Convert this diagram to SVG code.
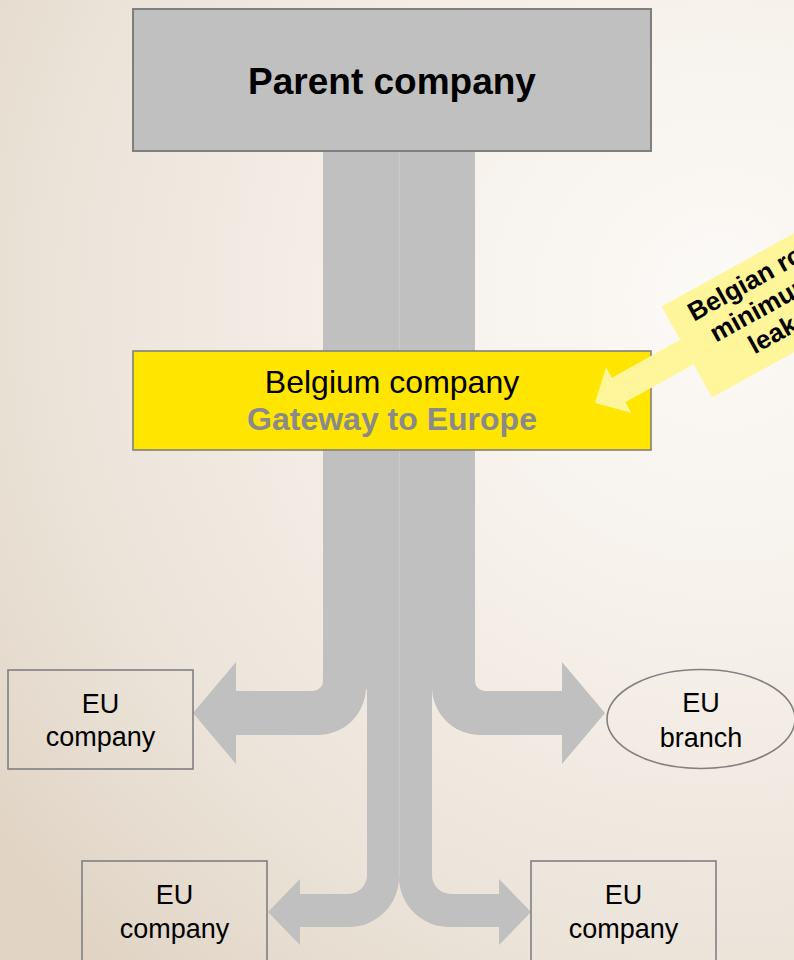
<svg xmlns="http://www.w3.org/2000/svg" width="794" height="960" viewBox="0 0 794 960">
<defs>
<radialGradient id="bg" gradientUnits="userSpaceOnUse" cx="720" cy="300" r="900">
<stop offset="0" stop-color="#FCFAF7"/>
<stop offset="0.35" stop-color="#F6F1EB"/>
<stop offset="0.75" stop-color="#EBE3D8"/>
<stop offset="1" stop-color="#E1D4C5"/>
</radialGradient>
</defs>
<style>
.t{font-family:"Liberation Sans",Arial,sans-serif;fill:#000;text-anchor:middle}
.b{font-weight:bold}
.box{fill:none;stroke:#808080;stroke-width:1.6}
.arrow{fill:#C0C0C0;stroke:none}
</style>
<rect width="794" height="960" fill="url(#bg)"/>
<g id="connectors">
<path class="arrow" d="M323,150 L323,681 A10,10 0 0 1 313,691 L236,691 L236,662 L193,713 L236,764 L236,735 L318,735 A48,48 0 0 0 366,687 L366,150 Z"/>
<path class="arrow" d="M475,150 L475,681 A10,10 0 0 0 485,691 L562,691 L562,662 L605,713 L562,764 L562,735 L480,735 A48,48 0 0 1 432,687 L432,150 Z"/>
<path class="arrow" d="M364,150 L364,686 L367,690 L367,875 A19,19 0 0 1 348,894 L300,894 L300,879 L268,912 L300,945 L300,927 L349,927 A50,50 0 0 0 399,877 L399,150 Z"/>
<path class="arrow" d="M434,150 L434,686 L432,690 L432,875 A19,19 0 0 0 451,894 L499,894 L499,879 L531,912 L499,945 L499,927 L449,927 A50,50 0 0 1 399,877 L399,150 Z"/>
<line x1="399.5" y1="150" x2="399.5" y2="876" stroke="#CACACA" stroke-width="1"/>
</g>
<g id="parent">
<rect x="133" y="9" width="518" height="142" fill="#C0C0C0" stroke="#7F7F7F" stroke-width="2"/>
<text class="t b" x="392" y="94" font-size="37">Parent company</text>
</g>
<g id="belgium">
<rect x="133" y="351" width="518" height="99" fill="#FFE500" stroke="#808080" stroke-width="1.6"/>
<text class="t" x="392" y="393" font-size="32">Belgium company</text>
<text class="t b" x="392" y="430" font-size="32" style="fill:#8A8A8A">Gateway to Europe</text>
</g>
<g id="callout" transform="translate(595,403) rotate(-29)">
<path d="M0,0 L27,-26 L27,-14 L105,-14 L105,-52 L320,-52 L320,52 L105,52 L105,14 L27,14 L27,26 Z" fill="#FFF59B"/>
<g font-family="'Liberation Sans',Arial,sans-serif" font-weight="bold" font-size="26" fill="#000">
<text x="126" y="-23">Belgian ro</text>
<text x="135" y="6">minimum</text>
<text x="163" y="35">leak</text>
</g>
</g>
<g id="eu-company-left">
<rect class="box" x="8" y="670" width="185" height="99"/>
<text class="t" x="100.5" y="712.5" font-size="27">EU</text>
<text class="t" x="100.5" y="746" font-size="27">company</text>
</g>
<g id="eu-branch">
<ellipse class="box" cx="701" cy="719" rx="94" ry="49.5"/>
<text class="t" x="701" y="712" font-size="27">EU</text>
<text class="t" x="701" y="747" font-size="27">branch</text>
</g>
<g id="eu-company-bottom-left">
<rect class="box" x="82" y="861" width="185" height="130"/>
<text class="t" x="174.5" y="904" font-size="27">EU</text>
<text class="t" x="174.5" y="938" font-size="27">company</text>
</g>
<g id="eu-company-bottom-right">
<rect class="box" x="531" y="861" width="185" height="130"/>
<text class="t" x="623.5" y="904" font-size="27">EU</text>
<text class="t" x="623.5" y="938" font-size="27">company</text>
</g>
</svg>
